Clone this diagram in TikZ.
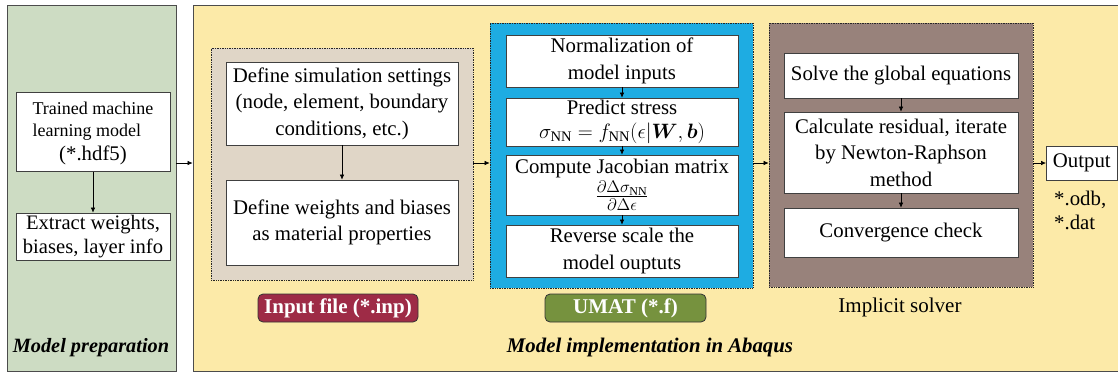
\RequirePackage{fix-cm}
\documentclass[tikz,border=0pt]{standalone}
\usepackage{amsmath}
\usepackage{bm}
\usepackage{fontspec}
\setmainfont{Liberation Serif}
\usetikzlibrary{arrows.meta,calc}
\definecolor{prepgreen}{RGB}{205,220,195}
\definecolor{abqyellow}{RGB}{252,234,168}
\definecolor{inptaupe}{RGB}{224,214,199}
\definecolor{umatblue}{RGB}{30,172,226}
\definecolor{implbrown}{RGB}{152,130,123}
\definecolor{tagmaroon}{RGB}{158,43,70}
\definecolor{tagolive}{RGB}{118,146,62}
\begin{document}
\begin{tikzpicture}[x=1pt,y=-1pt,
  panel/.style={draw=black!70, line width=0.8pt, inner sep=0pt},
  group/.style={draw=black!85, densely dotted, line width=0.7pt, inner sep=0pt},
  box/.style={draw=black!75, fill=white, line width=0.7pt, inner sep=1pt, align=center, font=\fontsize{20.8}{26.5}\selectfont},
  tag/.style={draw=black!80, rounded corners=5pt, text=white, line width=0.8pt, font=\bfseries\fontsize{21}{24}\selectfont},
  arr/.style={-{Latex[length=5pt,width=4.5pt]}, line width=0.6pt},
  plain/.style={font=\fontsize{21}{24}\selectfont, inner sep=0pt}
]
\useasboundingbox (0,0) rectangle (1118,375);
% panels
\node[panel, fill=prepgreen, minimum width=169, minimum height=366] (prep) at (91.5,188) {};
\node[panel, fill=abqyellow, minimum width=927, minimum height=366] (abq) at (656.5,188) {};
% model preparation
\node[box, minimum width=154, minimum height=79] (trained) at (93,132)
  {{\fontsize{18}{22}\selectfont\begin{tabular}{@{}l@{}}Trained machine\\learning model\end{tabular}}\\[1pt](*.hdf5)};
\node[box, minimum width=154, minimum height=47, font=\fontsize{20.6}{24}\selectfont] (extract) at (93,236.5) {Extract weights,\\biases, layer info};
\node[font=\bfseries\itshape\fontsize{20.3}{22}\selectfont] (preplbl) at (91,348) {Model preparation};
% input file group
\node[group, fill=inptaupe, minimum width=262, minimum height=232] (inp) at (342,164) {};
\node[box, minimum width=232, minimum height=83] (defsim) at (342,103.5) {Define simulation settings\\(node, element, boundary\\conditions, etc.)};
\node[box, minimum width=232, minimum height=85] (defw) at (342,222.5) {Define weights and biases\\as material properties};
\node[tag, fill=tagmaroon, minimum width=160, minimum height=28] (inplbl) at (338,308) {Input file (*.inp)};
% UMAT group
\node[group, fill=umatblue, minimum width=263, minimum height=265] (umat) at (621.5,155.5) {};
\node[box, minimum width=232, minimum height=52] (norm) at (622,61) {Normalization of\\model inputs};
\node[box, minimum width=232, minimum height=48, font=\fontsize{20.8}{24}\selectfont] (pred) at (622,122) {Predict stress\\$\sigma_{\mathrm{NN}}=f_{\mathrm{NN}}(\epsilon|\bm{W},\bm{b})$};
\node[box, minimum width=232, minimum height=60, inner sep=0pt, font=\fontsize{20.8}{21}\selectfont] (jac) at (622,185) {Compute Jacobian matrix\\[2pt]{\fontsize{24}{24}\selectfont$\frac{\partial\Delta\sigma_{\mathrm{NN}}}{\partial\Delta\epsilon}$}};
\node[box, minimum width=232, minimum height=52] (rev) at (622,251) {Reverse scale the\\model ouptuts};
\node[tag, fill=tagolive, minimum width=161, minimum height=28] (umatlbl) at (625.5,308) {UMAT (*.f)};
\node[font=\bfseries\itshape\fontsize{20.8}{23}\selectfont] (abqlbl) at (650,347) {Model implementation in Abaqus};
% implicit solver group
\node[group, fill=implbrown, minimum width=264, minimum height=264] (impl) at (901,155) {};
\node[box, minimum width=234, minimum height=45] (solve) at (901,75.5) {Solve the global equations};
\node[box, minimum width=234, minimum height=81] (calc) at (901,152.5) {Calculate residual, iterate\\by Newton-Raphson\\method};
\node[box, minimum width=234, minimum height=49] (conv) at (901,232.5) {Convergence check};
\node[plain] (impllbl) at (900,307) {Implicit solver};
% output
\node[box, minimum width=71, minimum height=34, anchor=west] (output) at (1046,163) {Output};
\node[plain, anchor=west, align=left, font=\fontsize{20.8}{24}\selectfont] (files) at (1054,210) {*.odb,\\*.dat};
% arrows
\draw[arr] (trained) -- (extract);
\draw[arr] (defsim) -- (defw);
\draw[arr] (norm) -- (pred);
\draw[arr] (pred) -- (jac);
\draw[arr] (jac) -- (rev);
\draw[arr] (solve.south -| calc) -- (calc);
\draw[arr] (calc.south -| conv) -- (conv);
\draw[arr] (prep.east |- output.west) -- (abq.west |- output.west);
\draw[arr] (inp.east |- output.west) -- (umat.west |- output.west);
\draw[arr] (umat.east |- output.west) -- (impl.west |- output.west);
\draw[arr] (impl.east |- output.west) -- (output.west);
\end{tikzpicture}
\end{document}
